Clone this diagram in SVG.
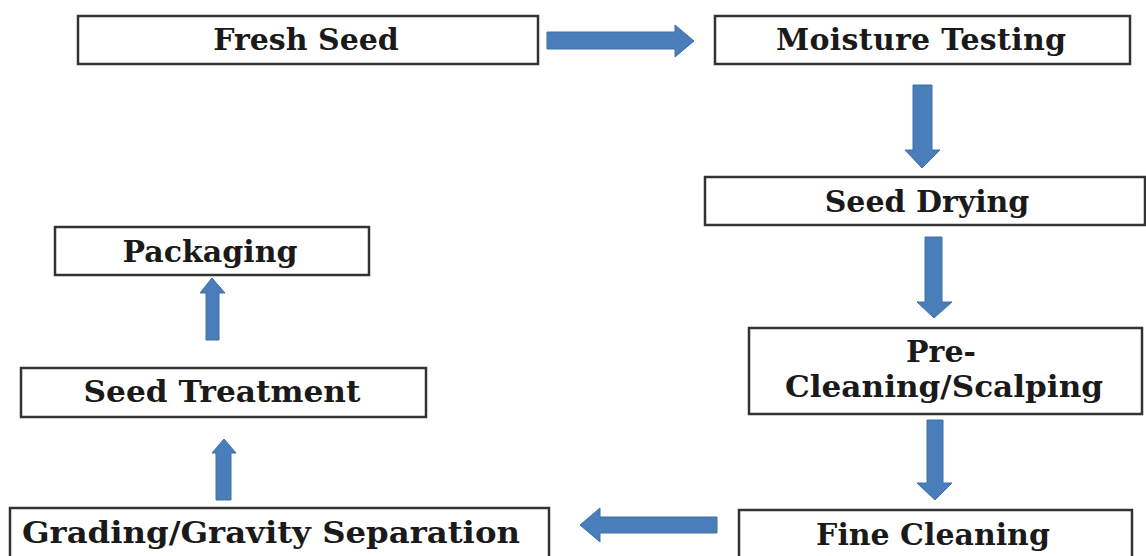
<svg xmlns="http://www.w3.org/2000/svg" width="1146" height="556" viewBox="0 0 1146 556">
<style>
.box{fill:#fff;stroke:#333;stroke-width:2.5}
.lbl{font-family:"DejaVu Serif","Liberation Serif",serif;font-weight:bold;font-size:30px;fill:#1a1a1a;text-anchor:middle}
.arr{fill:#4a7ebb;stroke:#3f70a8;stroke-width:1}
</style>
<rect width="1146" height="556" fill="#fff"/>
<g id="fresh-seed"><rect class="box" x="78" y="16" width="460" height="48"/><text class="lbl" x="306" y="50">Fresh Seed</text></g>
<g id="moisture-testing"><rect class="box" x="715" y="16" width="415" height="48"/><text class="lbl" x="921" y="50" textLength="290" lengthAdjust="spacing">Moisture Testing</text></g>
<g id="seed-drying"><rect class="box" x="705" y="177" width="440" height="48"/><text class="lbl" x="927" y="212">Seed Drying</text></g>
<g id="pre-cleaning"><rect class="box" x="749" y="328" width="393" height="86"/><text class="lbl" x="941" y="362">Pre-</text><text class="lbl" x="944" y="397" textLength="318" lengthAdjust="spacingAndGlyphs">Cleaning/Scalping</text></g>
<g id="fine-cleaning"><rect class="box" x="739" y="510" width="393" height="52"/><text class="lbl" x="933" y="545">Fine Cleaning</text></g>
<g id="grading"><rect class="box" x="10" y="508" width="539" height="54"/><text class="lbl" x="271" y="543" textLength="498" lengthAdjust="spacingAndGlyphs">Grading/Gravity Separation</text></g>
<g id="seed-treatment"><rect class="box" x="21" y="368" width="405" height="49"/><text class="lbl" x="222" y="402" textLength="277" lengthAdjust="spacingAndGlyphs">Seed Treatment</text></g>
<g id="packaging"><rect class="box" x="55" y="227" width="314" height="48"/><text class="lbl" x="210" y="262">Packaging</text></g>
<g id="connectors">
<polygon class="arr" points="547,32 675,32 675,25 694,41 675,57 675,49 547,49"/>
<polygon class="arr" points="913,85 932,85 932,150 940,150 922,168 905,150 913,150"/>
<polygon class="arr" points="925,237 942,237 942,302 952,302 934,318 917,302 925,302"/>
<polygon class="arr" points="927,420 943,420 943,483 952,483 935,500 917,483 927,483"/>
<polygon class="arr" points="717,517 600,517 600,508 580,525 600,542 600,533 717,533"/>
<polygon class="arr" points="219,340 206,340 206,293 200,293 212,278 225,293 219,293"/>
<polygon class="arr" points="231,500 216,500 216,453 212,453 224,439 236,453 231,453"/>
</g>
</svg>
